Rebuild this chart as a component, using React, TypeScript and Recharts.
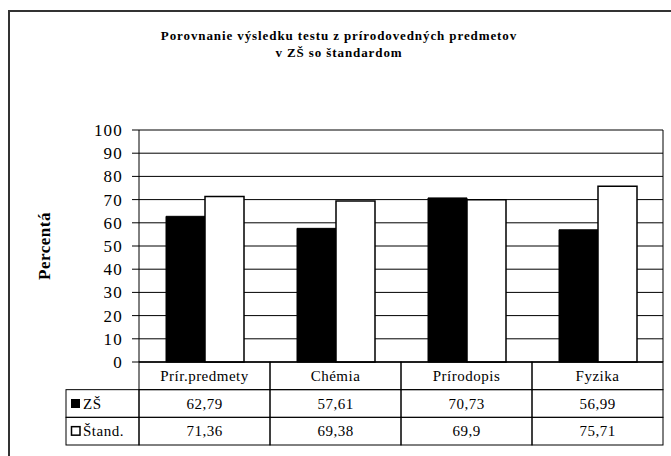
import React from 'react';
import { BarChart, Bar, XAxis, YAxis, CartesianGrid } from 'recharts';

// Data
const categories = ['Prír.predmety', 'Chémia', 'Prírodopis', 'Fyzika'];
const zsValues = [62.79, 57.61, 70.73, 56.99];
const standValues = [71.36, 69.38, 69.9, 75.71];
const seriesNames = ['ZŠ', 'Štand.'];
const yTicks = [0, 10, 20, 30, 40, 50, 60, 70, 80, 90, 100];
const titleLines = ['Porovnanie výsledku testu z prírodovedných predmetov', 'v ZŠ so štandardom'];
const yLabel = 'Percentá';

const chartData = categories.map((c, i) => ({ category: c, zs: zsValues[i], stand: standValues[i] }));

// Layout
const W = 671;
const H = 456;
const MARGIN = { top: 130, right: 8, left: 79, bottom: 11 };
const Y_AXIS_W = 60;
const X_AXIS_H = 83;
const PLOT_LEFT = MARGIN.left + Y_AXIS_W;
const PLOT_RIGHT = W - MARGIN.right;
const BAND = (PLOT_RIGHT - PLOT_LEFT) / categories.length;
const ROW_H = X_AXIS_H / 3;
const LEGEND_COL_W = 73;

const FONT = 'Liberation Serif, Times New Roman, serif';

const fmt = (v: number) => String(v).replace('.', ',');

// eslint-disable-next-line @typescript-eslint/no-explicit-any
const TableTick = (props: any) => {
  const { x, y, payload } = props;
  const i = categories.indexOf(payload.value);
  const left = x - BAND / 2;
  const lx = left - LEGEND_COL_W;
  const t = { fontFamily: FONT, fontSize: 15, letterSpacing: 0.5, fill: '#000' };

  return (
    <g>
      {[0, 1, 2].map(r => (
        <rect key={r} x={left} y={y + r * ROW_H} width={BAND} height={ROW_H} fill="none" stroke="#000" strokeWidth={1} />
      ))}
      <text x={x} y={y + ROW_H / 2} textAnchor="middle" dominantBaseline="central" {...t}>
        {payload.value}
      </text>
      <text x={x} y={y + ROW_H * 1.5} textAnchor="middle" dominantBaseline="central" {...t}>
        {fmt(zsValues[i])}
      </text>
      <text x={x} y={y + ROW_H * 2.5} textAnchor="middle" dominantBaseline="central" {...t}>
        {fmt(standValues[i])}
      </text>
      {i === 0 && (
        <g>
          <rect x={lx} y={y + ROW_H} width={LEGEND_COL_W} height={ROW_H} fill="none" stroke="#000" />
          <rect x={lx} y={y + ROW_H * 2} width={LEGEND_COL_W} height={ROW_H} fill="none" stroke="#000" />
          <rect x={lx + 5} y={y + ROW_H * 1.5 - 4.5} width={9} height={9} fill="#000" />
          <rect x={lx + 5.5} y={y + ROW_H * 2.5 - 4.5} width={8.5} height={8.5} fill="#fff" stroke="#000" strokeWidth={1.5} />
          <text x={lx + 17} y={y + ROW_H * 1.5} dominantBaseline="central" {...t}>
            {seriesNames[0]}
          </text>
          <text x={lx + 17} y={y + ROW_H * 2.5} dominantBaseline="central" {...t}>
            {seriesNames[1]}
          </text>
        </g>
      )}
    </g>
  );
};

export default function App() {
  return (
    <div style={{ position: 'absolute', left: 0, top: 0, width: W, height: H, overflow: 'hidden', background: '#fff' }}>
      {/* chart area frame (runs off the right and bottom edges) */}
      <div
        style={{
          position: 'absolute',
          left: 8,
          top: 10,
          width: 720,
          height: 520,
          border: '2px solid #333',
          boxSizing: 'border-box',
        }}
      />
      {titleLines.map((line, i) => (
        <div
          key={i}
          style={{
            position: 'absolute',
            left: 339,
            top: 36 + i * 17,
            transform: 'translate(-50%, -50%)',
            whiteSpace: 'nowrap',
            fontFamily: FONT,
            fontWeight: 'bold',
            fontSize: 13,
            letterSpacing: 0.9,
            color: '#000',
          }}
        >
          {line}
        </div>
      ))}
      <div
        style={{
          position: 'absolute',
          left: 45,
          top: 246,
          transform: 'translate(-50%, -50%) rotate(-90deg)',
          whiteSpace: 'nowrap',
          fontFamily: FONT,
          fontWeight: 'bold',
          fontSize: 17,
          letterSpacing: 0.5,
          color: '#000',
        }}
      >
        {yLabel}
      </div>
      <div style={{ position: 'absolute', left: 0, top: 0 }}>
        <BarChart
          width={W}
          height={H}
          data={chartData}
          margin={MARGIN}
          barCategoryGap={27}
          barGap={0}
        >
          <CartesianGrid
            stroke="#000"
            strokeWidth={1}
            horizontal={true}
            vertical={true}
            verticalPoints={[PLOT_RIGHT]}
          />
          <XAxis
            dataKey="category"
            height={X_AXIS_H}
            interval={0}
            tickSize={0}
            tickMargin={0}
            axisLine={{ stroke: '#000' }}
            tickLine={false}
            tick={<TableTick />}
          />
          <YAxis
            width={Y_AXIS_W}
            domain={[0, 100]}
            ticks={yTicks}
            interval={0}
            tickSize={7}
            tickMargin={9}
            axisLine={{ stroke: '#000' }}
            tickLine={{ stroke: '#000' }}
            tick={{ fill: '#000', fontFamily: FONT, fontSize: 17, letterSpacing: 1.2 }}
          />
          <Bar dataKey="zs" name={seriesNames[0]} fill="#000" stroke="#000" strokeWidth={1} isAnimationActive={false} />
          <Bar dataKey="stand" name={seriesNames[1]} fill="#fff" stroke="#000" strokeWidth={1.5} isAnimationActive={false} />
        </BarChart>
      </div>
    </div>
  );
}
